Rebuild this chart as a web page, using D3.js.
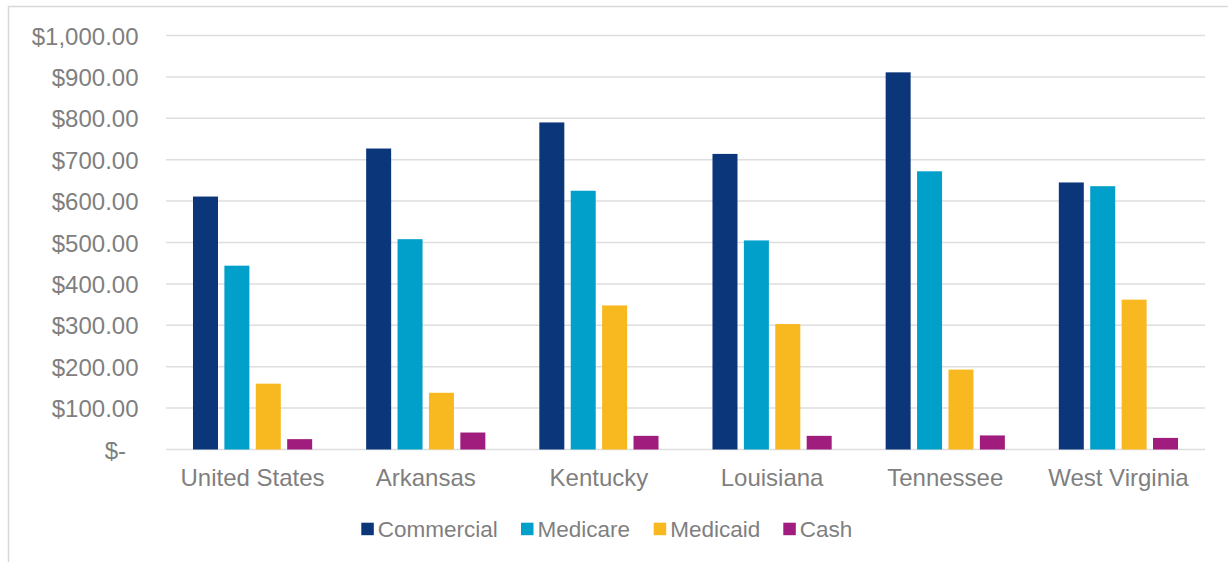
<!DOCTYPE html>
<html>
<head>
<meta charset="utf-8">
<script src="https://cdn.jsdelivr.net/npm/d3@7"></script>
<style>
  html, body { margin: 0; padding: 0; background: #ffffff; }
  svg { display: block; }
  text { font-family: "Liberation Sans", Arial, sans-serif; fill: #7f7f7f; }
</style>
</head>
<body>
<svg id="chart" width="1228" height="562"></svg>
<script>
// Average payment by payer type, per region
const regions = ["United States", "Arkansas", "Kentucky", "Louisiana", "Tennessee", "West Virginia"];
const payers = ["Commercial", "Medicare", "Medicaid", "Cash"];
const commercial = [611, 727, 790, 714, 911, 645];
const medicare   = [444, 508, 625, 505, 672, 636];
const medicaid   = [159, 137, 348, 303, 193, 362];
const cash       = [25, 41, 33, 33, 34, 28];
const yTicks = [0, 100, 200, 300, 400, 500, 600, 700, 800, 900, 1000];
const payerColors = ["#0b367a", "#00a0cb", "#f8b81f", "#a01c7d"];

const seriesValues = [commercial, medicare, medicaid, cash];

const svg = d3.select("#chart");
const W = 1228, H = 562;

// outer frame of the chart area
svg.append("rect")
  .attr("x", 8.5).attr("y", 6.5)
  .attr("width", W + 10).attr("height", H + 10)
  .attr("fill", "none").attr("stroke", "#d9d9d9").attr("stroke-width", 1.5);

const plot = { left: 166, right: 1205, top: 35.5, bottom: 449.5 };

const x = d3.scaleBand()
  .domain(regions)
  .range([plot.left, plot.right])
  .paddingInner(0).paddingOuter(0);

const y = d3.scaleLinear()
  .domain([0, 1000])
  .range([plot.bottom, plot.top]);

// bar geometry within each region band
const barW = 25, barStep = 31.4;
const xSub = d3.scaleBand().domain(payers)
  .range([0, barStep * payers.length]);

// horizontal gridlines
svg.append("g")
  .selectAll("line")
  .data(yTicks)
  .join("line")
  .attr("x1", plot.left).attr("x2", plot.right)
  .attr("y1", d => y(d)).attr("y2", d => y(d))
  .attr("stroke", "#dedede").attr("stroke-width", 1.5);

// y axis labels
const fmt = d3.format("$,.2f");
const yAxis = d3.axisLeft(y)
  .tickValues(yTicks)
  .tickSize(0)
  .tickPadding(0)
  .tickFormat(d => d === 0 ? "$-" : fmt(d));
const gy = svg.append("g")
  .attr("transform", `translate(138.5,0)`)
  .call(yAxis);
gy.select(".domain").remove();
gy.selectAll("text")
  .attr("font-size", 24)
  .attr("font-family", "Liberation Sans, Arial, sans-serif")
  .attr("fill", "#7f7f7f")
  .attr("dy", "0.36em");
// "$-" sits with its dash aligned like the other labels' decimals
gy.selectAll(".tick").filter(d => d === 0).select("text")
  .attr("x", -12.5);

// bars
const groups = svg.append("g")
  .selectAll("g")
  .data(regions)
  .join("g")
  .attr("transform", d => {
    const groupW = barStep * (payers.length - 1) + barW;
    return `translate(${x(d) + (x.bandwidth() - groupW) / 2},0)`;
  });

groups.selectAll("rect")
  .data((r, i) => payers.map((p, j) => ({ payer: p, value: seriesValues[j][i], color: payerColors[j] })))
  .join("rect")
  .attr("x", d => xSub(d.payer))
  .attr("width", barW)
  .attr("y", d => y(d.value))
  .attr("height", d => y(0) - y(d.value))
  .attr("fill", d => d.color);

// x axis labels
const xAxis = d3.axisBottom(x).tickSize(0).tickPadding(0);
const gx = svg.append("g")
  .attr("transform", `translate(0,486)`)
  .call(xAxis);
gx.select(".domain").remove();
gx.selectAll("text")
  .attr("font-size", 24)
  .attr("font-family", "Liberation Sans, Arial, sans-serif")
  .attr("fill", "#7f7f7f")
  .attr("dy", 0);

// legend
const legendX = [361.3, 521, 653.7, 783.3];
const legend = svg.append("g")
  .selectAll("g")
  .data(payers)
  .join("g")
  .attr("transform", (d, i) => `translate(${legendX[i]},0)`);
legend.append("rect")
  .attr("x", 0).attr("y", 522.7)
  .attr("width", 12.5).attr("height", 12.5)
  .attr("fill", (d, i) => payerColors[i]);
legend.append("text")
  .attr("x", 16.5).attr("y", 536.7)
  .attr("font-size", 22.5)
  .text(d => d);
</script>
</body>
</html>
